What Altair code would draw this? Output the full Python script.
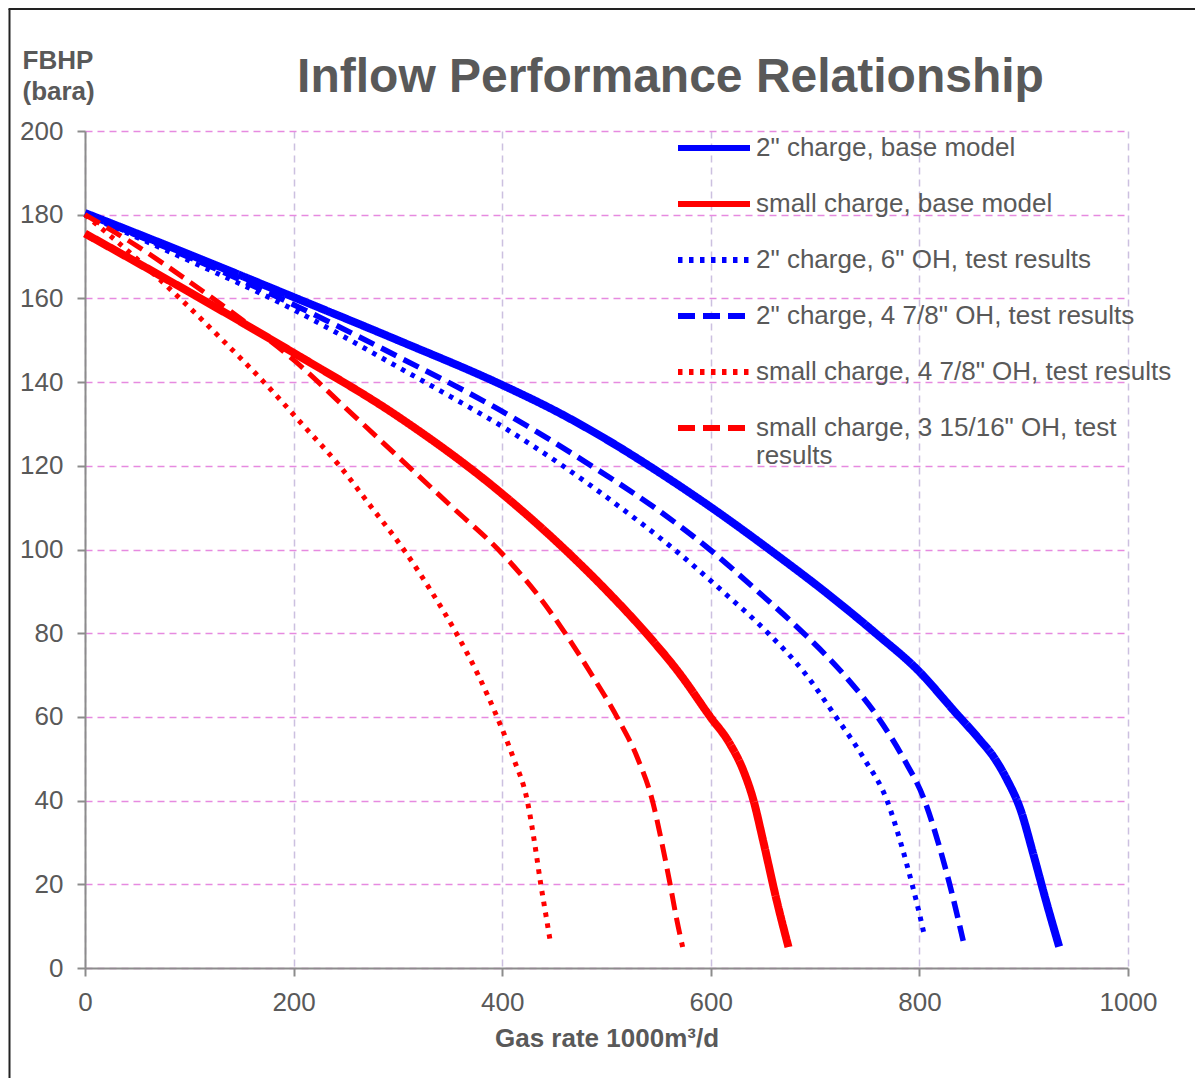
import altair as alt
import pandas as pd

# ---------------- data ----------------
series_names = [
    '2" charge, base model',
    'small charge, base model',
    '2" charge, 6" OH, test results',
    '2" charge, 4 7/8" OH, test results',
    'small charge, 4 7/8" OH, test results',
    'small charge, 3 15/16" OH, test results',
]
series_colors = ["#0000FF", "#FF0000", "#0000FF", "#0000FF", "#FF0000", "#FF0000"]
series_dashes = [[1, 0], [1, 0], [4.5, 6.5], [17, 8], [4.5, 6.5], [17, 8]]

# 2" charge, base model
x_blue_base = [0, 100, 200, 300, 400, 455, 500, 550, 599, 661, 710, 758, 800, 833, 858, 871, 884, 897, 909, 922, 934]
y_blue_base = [180.4, 170.5, 160.3, 150, 139.3, 132.6, 126.3, 118.5, 110.3, 99.1, 89.8, 80, 70.8, 61.5, 54.5, 50.5, 45, 37.8, 27.4, 15.5, 5.1]

# small charge, base model
x_red_base = [0, 100, 200, 300, 400, 458, 500, 538, 570, 599.5, 618, 631, 641, 650, 663, 674.5]
y_red_base = [175.5, 161.5, 147, 131.8, 113.3, 100.5, 90.2, 80, 70.4, 60, 53.7, 47.3, 40, 30.6, 16.3, 5]

# 2" charge, 6" OH, test results
x_blue_6oh = [0, 100, 200, 250, 300, 350, 400, 458, 512, 565, 610, 655, 690, 720, 747, 769, 782, 793, 800, 805]
y_blue_6oh = [180, 169, 157.3, 150.6, 143.6, 136.6, 129.4, 120, 110.3, 100, 90.3, 80, 70.5, 60, 50, 40, 30, 20, 13, 7.5]

# 2" charge, 4 7/8" OH, test results
x_blue_478 = [0, 100, 200, 300, 400, 488, 545, 599, 645, 689, 728, 760, 785, 805, 818, 829, 842]
y_blue_478 = [180, 169.8, 158.5, 146.1, 133, 119.6, 110.2, 100, 90, 80, 70, 60, 50, 40, 30, 20, 6.5]

# small charge, 4 7/8" OH, test results
x_red_478 = [0, 45, 91, 132, 171.5, 208, 244, 275, 305.5, 332, 356, 377, 395, 411, 424, 431, 437, 442, 446]
y_red_478 = [180, 170.5, 160, 150, 140, 130, 120, 110, 100, 90, 80, 70, 60, 50, 40, 30, 20, 12.5, 6.5]

# small charge, 3 15/16" OH, test results
x_red_31516 = [0, 50, 100, 150, 200, 250, 300, 350, 400, 437, 459, 486, 510, 530, 544, 553, 561, 567, 573]
y_red_31516 = [180, 172.5, 164, 155, 145.3, 133.8, 122.2, 110.6, 99, 88.2, 80.5, 70, 60, 50, 40, 30, 20, 12, 5]

x_ticks = [0, 200, 400, 600, 800, 1000]
y_ticks = [0, 20, 40, 60, 80, 100, 120, 140, 160, 180, 200]

xs_all = [x_blue_base, x_red_base, x_blue_6oh, x_blue_478, x_red_478, x_red_31516]
ys_all = [y_blue_base, y_red_base, y_blue_6oh, y_blue_478, y_red_478, y_red_31516]

frames = []
for name, xs, ys in zip(series_names, xs_all, ys_all):
    frames.append(pd.DataFrame({"series": name, "rate": xs, "fbhp": ys}))
df = pd.concat(frames, ignore_index=True)

# ---------------- style ----------------
FONT = "Liberation Sans"
TEXT = "#595959"
AXIS_GREY = "#8C8C8C"

legend = alt.Legend(
    title=None,
    orient="none",
    legendX=590,
    legendY=2,
    direction="vertical",
    symbolType="stroke",
    symbolSize=5184,
    symbolStrokeWidth=6,
    clipHeight=30,
    rowPadding=26,
    labelFont=FONT,
    labelFontSize=26,
    labelColor=TEXT,
    labelLimit=700,
    labelOffset=3,
    padding=0,
    labelExpr="indexof(datum.label, '3 15/16') >= 0 ? ['small charge, 3 15/16\" OH, test', 'results'] : datum.label",
)

lines = alt.Chart(df).mark_line(interpolate="monotone", strokeJoin="round").encode(
    x=alt.X(
        "rate:Q",
        scale=alt.Scale(domain=[0, 1000], nice=False, zero=False),
        axis=alt.Axis(
            values=x_ticks,
            format="d",
            labelFlush=False,
            labelFontSize=26,
            labelColor=TEXT,
            labelFont=FONT,
            labelPadding=13,
            tickSize=8,
            tickWidth=2,
            tickColor=AXIS_GREY,
            domainColor=AXIS_GREY,
            domainWidth=2,
            grid=True,
            gridColor="#CCC0E0",
            gridDash=[7, 5],
            gridWidth=1.5,
            title="Gas rate 1000m³/d",
            titleFont=FONT,
            titleFontSize=26,
            titleFontWeight="bold",
            titleColor=TEXT,
            titleBaseline="alphabetic",
            titleY=78,
        ),
    ),
    y=alt.Y(
        "fbhp:Q",
        scale=alt.Scale(domain=[0, 200], nice=False),
        axis=alt.Axis(
            values=y_ticks,
            format="d",
            labelFlush=False,
            labelFontSize=26,
            labelColor=TEXT,
            labelFont=FONT,
            labelPadding=14,
            tickSize=8,
            tickWidth=2,
            tickColor=AXIS_GREY,
            domainColor=AXIS_GREY,
            domainWidth=2,
            grid=True,
            gridColor="#E68AE0",
            gridDash=[7, 5],
            gridWidth=1.5,
            title=["FBHP", "(bara)"],
            titleFont=FONT,
            titleFontSize=26,
            titleFontWeight="bold",
            titleColor=TEXT,
            titleAngle=0,
            titleAlign="left",
            titleBaseline="alphabetic",
            titleX=-63,
            titleY=-63,
            titleLineHeight=31,
        ),
    ),
    color=alt.Color(
        "series:N",
        scale=alt.Scale(domain=series_names, range=series_colors),
        legend=legend,
    ),
    strokeDash=alt.StrokeDash(
        "series:N",
        scale=alt.Scale(domain=series_names, range=series_dashes),
        legend=legend,
    ),
    strokeWidth=alt.value(
        5.5,
        condition=[
            {"test": "indexof(datum.series, 'base model') >= 0", "value": 8},
            {"test": "indexof(datum.series, '6\" OH') >= 0 || indexof(datum.series, 'small charge, 4 7/8') >= 0", "value": 5},
        ],
    ),
)

# outer frame: only its left and top edges fall inside the picture
frame_df = pd.DataFrame({"k": [0]})
frame_left = alt.Chart(frame_df).mark_rule(color="#222222", strokeWidth=2).encode(
    x=alt.value(-75.5), y=alt.value(-122), y2=alt.value(947)
)
frame_top = alt.Chart(frame_df).mark_rule(color="#222222", strokeWidth=2).encode(
    x=alt.value(-76.5), x2=alt.value(1110), y=alt.value(-122)
)

chart = (
    alt.layer(lines, frame_left, frame_top)
    .properties(
        width=1043,
        height=837,
        autosize=alt.AutoSizeParams(type="none"),
        padding={"left": 77, "top": 123, "right": 67, "bottom": 110},
        title=alt.TitleParams(
            text="Inflow Performance Relationship",
            font=FONT,
            fontSize=48,
            fontWeight="bold",
            color=TEXT,
            anchor="middle",
            frame="group",
            baseline="alphabetic",
            offset=0,
            dx=64,
            dy=132,
        ),
    )
    .configure_view(strokeWidth=0)
)

chart.save("out.html", embed_options={"renderer": "svg", "actions": False})
